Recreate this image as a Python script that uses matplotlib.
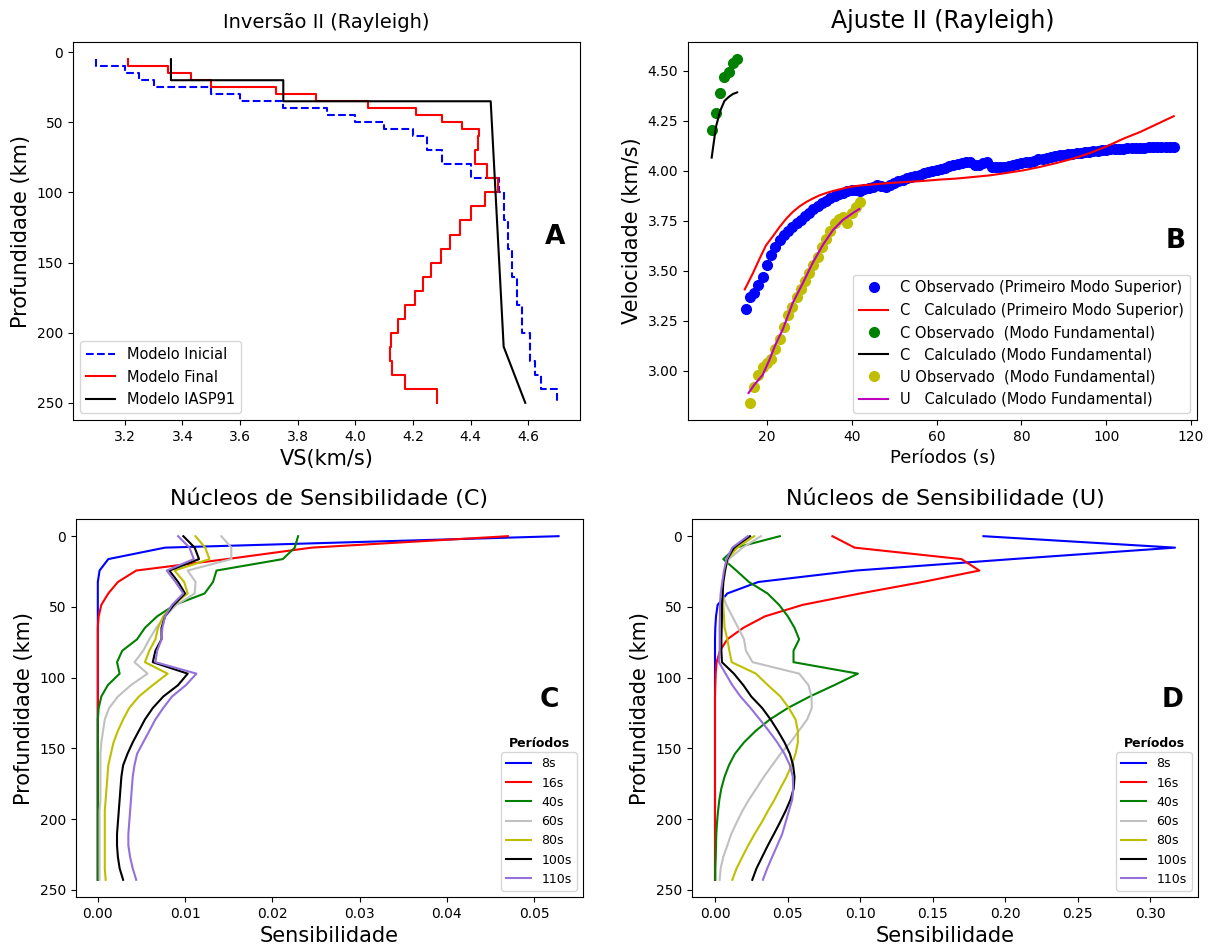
import numpy as np
import matplotlib
matplotlib.use("Agg")
import matplotlib.pyplot as plt

# ---------------- Panel A: velocity models ----------------
ini_bounds = [5, 10, 15, 20, 25, 30, 35, 40, 45, 50, 55, 60, 70, 80, 90, 100,
              120, 140, 160, 180, 200, 220, 230, 240, 250]
ini_vs = [3.10, 3.20, 3.25, 3.30, 3.50, 3.60, 3.75, 3.90, 4.00, 4.10, 4.20,
          4.25, 4.30, 4.40, 4.50, 4.515, 4.53, 4.545, 4.56, 4.58, 4.605,
          4.625, 4.645, 4.70]

fin_bounds = [5, 10, 15, 20, 25, 30, 35, 40, 45, 50, 55, 60, 70, 80, 90, 100,
              110, 120, 130, 140, 150, 160, 170, 180, 190, 200, 210, 220, 230,
              240, 250]
fin_vs = [3.21, 3.35, 3.43, 3.50, 3.725, 3.865, 4.045, 4.21, 4.30, 4.37,
          4.43, 4.425, 4.417, 4.456, 4.495, 4.45, 4.403, 4.365, 4.33, 4.296,
          4.264, 4.236, 4.207, 4.174, 4.148, 4.125, 4.119, 4.128, 4.174, 4.284]

iasp_depth = [5, 20, 20, 35, 35, 210, 250]
iasp_vs = [3.36, 3.36, 3.75, 3.75, 4.47, 4.515, 4.59]

# ---------------- Panel B: dispersion ----------------
c1_obs_per = list(range(15, 117))
c1_obs_vel = [3.31, 3.37, 3.39, 3.43, 3.47, 3.53, 3.58, 3.62, 3.655, 3.68,
              3.70, 3.72, 3.74, 3.757, 3.775, 3.79, 3.808, 3.824, 3.838, 3.852,
              3.865, 3.875, 3.884, 3.892, 3.90, 3.905, 3.905, 3.902, 3.908, 3.915,
              3.922, 3.93, 3.925, 3.92, 3.932, 3.942, 3.95, 3.957, 3.965, 3.97,
              3.976, 3.98, 3.988, 3.995, 4.002, 4.007, 4.012, 4.017, 4.025, 4.031,
              4.036, 4.04, 4.047, 4.045, 4.03, 4.03, 4.038, 4.045, 4.018, 4.018,
              4.02, 4.022, 4.025, 4.029, 4.034, 4.038, 4.043, 4.047, 4.052, 4.058,
              4.062, 4.066, 4.07, 4.074, 4.078, 4.081, 4.084, 4.087, 4.089, 4.091,
              4.093, 4.095, 4.098, 4.101, 4.104, 4.106, 4.108, 4.109, 4.11, 4.112,
              4.113, 4.114, 4.115, 4.116, 4.117, 4.118, 4.119, 4.12, 4.121, 4.122,
              4.122, 4.122]

c1_calc_per = [14.8, 16.7, 18.3, 19.8, 21.4, 23.0, 24.6, 26.1, 27.7, 29.3,
               30.8, 32.4, 34.0, 35.6, 37.1, 39.5, 41.8, 45.0, 48.9, 52.8,
               56.7, 60.7, 64.6, 68.6, 72.5, 76.4, 80.4, 84.3, 88.3, 92.2,
               96.2, 100.1, 104.1, 108.0, 112.0, 115.9]
c1_calc_vel = [3.408, 3.488, 3.562, 3.628, 3.673, 3.72, 3.762, 3.795, 3.823,
               3.845, 3.862, 3.878, 3.89, 3.90, 3.908, 3.92, 3.927, 3.933,
               3.94, 3.945, 3.95, 3.957, 3.962, 3.97, 3.978, 3.99, 4.003,
               4.02, 4.04, 4.062, 4.09, 4.123, 4.162, 4.195, 4.235, 4.274]

c0_obs_per = [7, 8, 9, 10, 11, 12, 13]
c0_obs_vel = [4.205, 4.29, 4.39, 4.468, 4.497, 4.538, 4.56]
c0_calc_per = [7, 8, 9, 10, 11, 12, 13]
c0_calc_vel = [4.067, 4.22, 4.30, 4.35, 4.37, 4.385, 4.393]

u0_obs_per = list(range(16, 43))
u0_obs_vel = [2.84, 2.92, 2.98, 3.02, 3.04, 3.06, 3.11, 3.16, 3.22, 3.28,
              3.32, 3.37, 3.41, 3.45, 3.49, 3.53, 3.57, 3.62, 3.66, 3.70,
              3.74, 3.76, 3.77, 3.74, 3.79, 3.82, 3.845]
u0_calc_per = [15.7, 17.0, 19.0, 20.5, 22.0, 23.8, 26.1, 28.5, 30.8, 33.2,
               35.6, 37.9, 40.3, 41.8]
u0_calc_vel = [2.89, 2.93, 2.98, 3.05, 3.13, 3.21, 3.34, 3.44, 3.54, 3.63,
               3.705, 3.755, 3.79, 3.81]

# ---------------- Panels C, D: sensitivity kernels ----------------
kern_depth = [0, 8.1, 16.2, 24.3, 32.4, 40.5, 48.6, 56.7, 64.8, 72.9, 81.0,
              89.1, 97.2, 105.3, 113.4, 121.5, 129.6, 137.7, 145.8, 153.9,
              162.0, 170.1, 178.2, 186.3, 194.4, 202.5, 210.6, 218.7, 226.8,
              234.9, 243.0]
periods_lbl = ["8s", "16s", "40s", "60s", "80s", "100s", "110s"]
kern_colors = ["b", "r", "g", "silver", "y", "k", "mediumpurple"]

kc_8 = [0.0528, 0.0077, 0.0012, 0.0002, 0, 0, 0, 0, 0, 0, 0, 0, 0, 0, 0, 0,
        0, 0, 0, 0, 0, 0, 0, 0, 0, 0, 0, 0, 0, 0, 0]
kc_16 = [0.047, 0.0245, 0.0148, 0.0044, 0.0023, 0.0012, 0.0004, 0.0001, 0,
         0, 0, 0, 0, 0, 0, 0, 0, 0, 0, 0, 0, 0, 0, 0, 0, 0, 0, 0, 0, 0, 0]
kc_40 = [0.02295, 0.02257, 0.0212, 0.0136, 0.0132, 0.01224, 0.0088, 0.0068,
         0.0054, 0.0045, 0.0028, 0.0022, 0.0025, 0.00115, 0.0004, 0.0001, 0,
         0, 0, 0, 0, 0, 0, 0, 0, 0, 0, 0, 0, 0, 0]
kc_60 = [0.01415, 0.0153, 0.0153, 0.0103, 0.0112, 0.0111, 0.009, 0.0077,
         0.0067, 0.0059, 0.0052, 0.0042, 0.0057, 0.0038, 0.0023, 0.0013,
         0.0008, 0.0006, 0.0004, 0.0003, 0.0003, 0.0003, 0.0003, 0.0003,
         0.0002, 0.0002, 0.0002, 0.0002, 0.0002, 0.0002, 0.0002]
kc_80 = [0.0112, 0.0123, 0.0128, 0.0088, 0.0099, 0.0103, 0.0086, 0.0075,
         0.0069, 0.0066, 0.0059, 0.0054, 0.008, 0.0063, 0.0047, 0.0036,
         0.0029, 0.0023, 0.0018, 0.0015, 0.0012, 0.0011, 0.001, 0.0009,
         0.0008, 0.0008, 0.0008, 0.0008, 0.0008, 0.0008, 0.0009]
kc_100 = [0.0098, 0.0111, 0.0116, 0.0082, 0.0092, 0.010, 0.0087, 0.0077,
          0.0073, 0.0073, 0.0066, 0.0063, 0.0103, 0.0092, 0.0075, 0.0063,
          0.0054, 0.0047, 0.004, 0.0034, 0.0029, 0.0027, 0.0026, 0.0025,
          0.0024, 0.0023, 0.0022, 0.0022, 0.0023, 0.0025, 0.0029]
kc_110 = [0.0092, 0.0105, 0.011, 0.0079, 0.0089, 0.0098, 0.0085, 0.0077,
          0.0074, 0.0073, 0.0068, 0.0066, 0.0113, 0.0101, 0.0085, 0.0075,
          0.0066, 0.0059, 0.0052, 0.0045, 0.0042, 0.004, 0.0039, 0.0038,
          0.0037, 0.0036, 0.0035, 0.0035, 0.0037, 0.004, 0.0044]

ku_8 = [0.185, 0.317, 0.205, 0.097, 0.0298, 0.0085, 0.0018, 0.0007, 0.0002,
        0, 0, 0, 0, 0, 0, 0, 0, 0, 0, 0, 0, 0, 0, 0, 0, 0, 0, 0, 0, 0, 0]
ku_16 = [0.0809, 0.0962, 0.1698, 0.1822, 0.143, 0.100, 0.0603, 0.0344,
         0.0195, 0.0085, 0.0034, 0.0011, 0.0005, 0.0002, 0, 0, 0, 0, 0, 0, 0,
         0, 0, 0, 0, 0, 0, 0, 0, 0, 0]
ku_40 = [0.0447, 0.0144, 0.0057, 0.0147, 0.0234, 0.0362, 0.0442, 0.0502,
         0.0548, 0.058, 0.0541, 0.0541, 0.0985, 0.0823, 0.0653, 0.0502,
         0.0378, 0.028, 0.02, 0.0137, 0.0096, 0.0066, 0.0044, 0.003, 0.0021,
         0.0014, 0.0009, 0.0007, 0.0005, 0.0002, 0.0002]
ku_60 = [0.0316, 0.019, 0.0096, 0.0066, 0.0055, 0.005, 0.0078, 0.0119,
         0.016, 0.02, 0.0213, 0.0259, 0.058, 0.0644, 0.0665, 0.0667, 0.0635,
         0.0577, 0.052, 0.0451, 0.0394, 0.0337, 0.0286, 0.0234, 0.0188,
         0.0149, 0.0112, 0.0085, 0.0057, 0.0039, 0.0032]
ku_80 = [0.027, 0.0154, 0.0085, 0.0071, 0.0057, 0.0053, 0.0057, 0.0062,
         0.0066, 0.0085, 0.0099, 0.0115, 0.0282, 0.0364, 0.0451, 0.0509,
         0.0555, 0.0571, 0.0571, 0.0555, 0.0527, 0.0493, 0.0451, 0.041,
         0.0364, 0.0321, 0.0273, 0.0229, 0.0188, 0.0149, 0.0119]
ku_100 = [0.0241, 0.013, 0.0085, 0.0069, 0.0057, 0.0053, 0.0048, 0.0048,
          0.0046, 0.0044, 0.0044, 0.0048, 0.013, 0.0195, 0.025, 0.0325,
          0.0383, 0.0433, 0.0479, 0.0516, 0.0538, 0.0548, 0.0543, 0.052,
          0.0486, 0.0447, 0.0406, 0.0364, 0.0325, 0.0286, 0.0257]
ku_110 = [0.0225, 0.0119, 0.008, 0.0062, 0.005, 0.0039, 0.0034, 0.0034,
          0.0032, 0.0032, 0.0032, 0.0027, 0.0073, 0.0119, 0.0176, 0.0245,
          0.0309, 0.0371, 0.0429, 0.0479, 0.0516, 0.0536, 0.0539, 0.0532,
          0.0509, 0.0486, 0.0463, 0.0429, 0.0394, 0.036, 0.033]

kern_c = [kc_8, kc_16, kc_40, kc_60, kc_80, kc_100, kc_110]
kern_u = [ku_8, ku_16, ku_40, ku_60, ku_80, ku_100, ku_110]


def layered(bounds, vs):
    y = np.column_stack([bounds[:-1], bounds[1:]]).ravel()
    x = np.repeat(vs, 2)
    return x, y


W, H = 1213, 947
fig = plt.figure(figsize=(W / 100, H / 100), dpi=100)


def axes_px(l, t, r, b):
    return fig.add_axes([l / W, 1 - b / H, (r - l) / W, (b - t) / H])


TICK = 10
axA = axes_px(73, 42, 580, 420)
axB = axes_px(688, 42, 1197, 420)
axC = axes_px(76, 519, 583, 897)
axD = axes_px(692, 519, 1198, 897)
for ax in (axA, axB, axC, axD):
    ax.tick_params(labelsize=TICK)

# Panel A
x, y = layered(ini_bounds, ini_vs)
axA.plot(x, y, "b--", lw=1.5, label="Modelo Inicial")
x, y = layered(fin_bounds, fin_vs)
axA.plot(x, y, "r-", lw=1.5, label="Modelo Final")
axA.plot(iasp_vs, iasp_depth, "k-", lw=1.5, label="Modelo IASP91")
axA.set_xlim(3.02, 4.78)
axA.set_ylim(262.25, -7.25)
axA.set_yticks([0, 50, 100, 150, 200, 250])
axA.set_xticks([3.2, 3.4, 3.6, 3.8, 4.0, 4.2, 4.4, 4.6])
axA.set_xlabel("VS(km/s)", fontsize=15)
axA.set_ylabel("Profundidade (km)", fontsize=15)
axA.set_title("Inversão II (Rayleigh)", fontsize=14, pad=10)
axA.legend(loc="lower left", fontsize=10.5)
axA.text(0.951, 0.485, "A", transform=axA.transAxes, fontsize=19,
         fontweight="bold", ha="center", va="center")

# Panel B
axB.plot(c1_obs_per, c1_obs_vel, "bo", ms=7, ls="none",
         label="C Observado (Primeiro Modo Superior)")
axB.plot(c1_calc_per, c1_calc_vel, "r-", lw=1.5,
         label="C   Calculado (Primeiro Modo Superior)")
axB.plot(c0_obs_per, c0_obs_vel, "go", ms=7, ls="none",
         label="C Observado  (Modo Fundamental)")
axB.plot(c0_calc_per, c0_calc_vel, "k-", lw=1.5,
         label="C   Calculado (Modo Fundamental)")
axB.plot(u0_obs_per, u0_obs_vel, "yo", ms=7, ls="none",
         label="U Observado  (Modo Fundamental)")
axB.plot(u0_calc_per, u0_calc_vel, "m-", lw=1.5,
         label="U   Calculado (Modo Fundamental)")
axB.set_xlim(1.42, 121.4)
axB.set_ylim(2.755, 4.645)
axB.set_xticks([20, 40, 60, 80, 100, 120])
axB.set_yticks([3.00, 3.25, 3.50, 3.75, 4.00, 4.25, 4.50])
axB.yaxis.set_major_formatter(matplotlib.ticker.FormatStrFormatter("%.2f"))
axB.set_xlabel("Períodos (s)", fontsize=13)
axB.set_ylabel("Velocidade (km/s)", fontsize=15)
axB.set_title("Ajuste II (Rayleigh)", fontsize=17, pad=10)
axB.legend(loc="lower right", fontsize=10.5, numpoints=1)
axB.text(0.959, 0.474, "B", transform=axB.transAxes, fontsize=19,
         fontweight="bold", ha="center", va="center")

# Panels C and D
legs = []
for ax, kern, title, letter, lx in (
        (axC, kern_c, "Núcleos de Sensibilidade (C)", "C", 0.934),
        (axD, kern_u, "Núcleos de Sensibilidade (U)", "D", 0.949)):
    for vals, col, lab in zip(kern, kern_colors, periods_lbl):
        ax.plot(vals, kern_depth, color=col, lw=1.5, label=lab)
    ax.invert_yaxis()
    ax.set_yticks([0, 50, 100, 150, 200, 250])
    ax.set_xlabel("Sensibilidade", fontsize=15)
    ax.set_ylabel("Profundidade (km)", fontsize=15)
    ax.set_title(title, fontsize=16, pad=10)
    leg = ax.legend(loc="lower right", fontsize=9)
    legs.append((ax, leg))
    ax.text(lx, 0.52, letter, transform=ax.transAxes, fontsize=19,
            fontweight="bold", ha="center", va="center")

axC.set_xticks([0.00, 0.01, 0.02, 0.03, 0.04, 0.05])
axC.set_xlim(-0.0025, 0.0556)
axD.set_xticks([0.00, 0.05, 0.10, 0.15, 0.20, 0.25, 0.30])

# legend titles drawn just above the legend frames
fig.canvas.draw()
for ax, leg in legs:
    bb = leg.get_window_extent()
    xc = (bb.x0 + bb.x1) / 2 / W
    yt = (bb.y1 + 2) / H
    fig.text(xc, yt, "Períodos", fontsize=9, fontweight="bold",
             ha="center", va="bottom")

fig.savefig("out.png", dpi=100)
